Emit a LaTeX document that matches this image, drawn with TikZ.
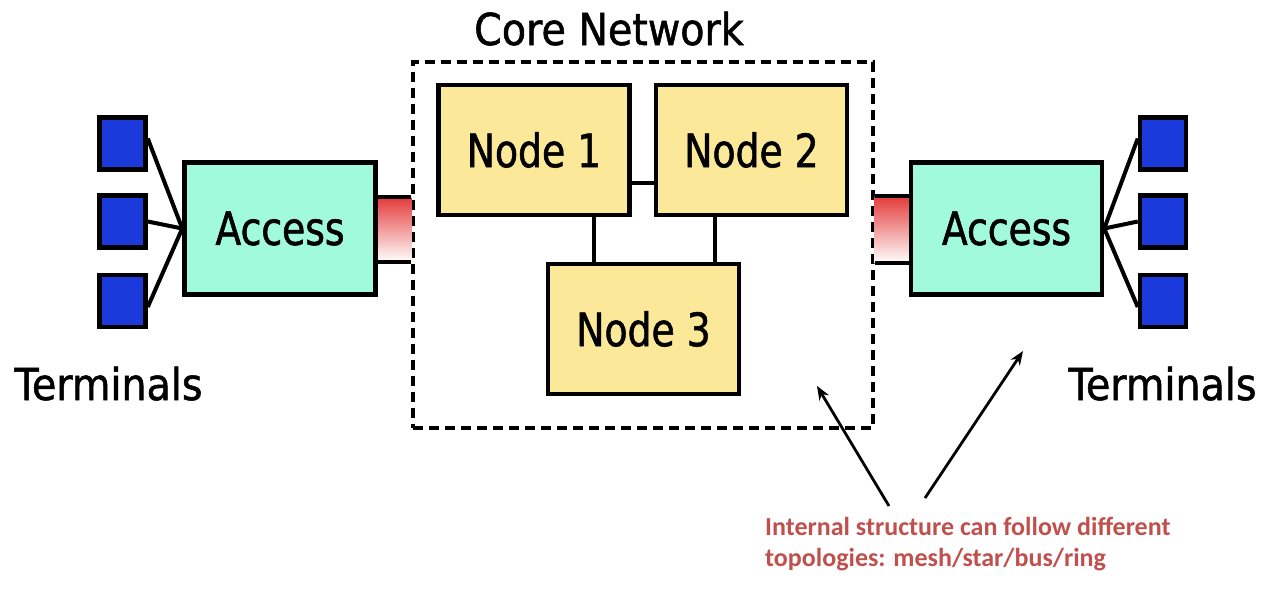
\documentclass[tikz,border=0pt]{standalone}
\usepackage{fontspec}
\setmainfont{DejaVu Sans}[FakeStretch=0.82,FakeBold=1.2]
\newfontfamily\widefont{DejaVu Sans}[FakeStretch=0.9,FakeBold=1.2]
\newfontfamily\notefont{Carlito}
\usetikzlibrary{arrows.meta}
\definecolor{accfill}{RGB}{162,250,220}
\definecolor{nodefill}{RGB}{251,232,153}
\definecolor{termblue}{RGB}{26,58,219}
\definecolor{notered}{RGB}{192,80,77}
\definecolor{linkred}{RGB}{228,58,58}
\tikzset{
  box/.style={draw=black, line width=4.5pt, inner sep=0pt, font=\fontsize{46}{50}\selectfont},
  accbox/.style={box, fill=accfill, minimum width=191pt, minimum height=132pt},
  corenode/.style={box, fill=nodefill, minimum width=191pt, minimum height=130pt},
  term/.style={draw=black, line width=4.5pt, fill=termblue, minimum width=46pt, minimum height=52pt, inner sep=0pt},
  wire/.style={line width=4pt},
  link/.style={line width=4pt},
  label/.style={font=\widefont\fontsize{44}{48}\selectfont, inner sep=0pt},
  pointer/.style={line width=2.8pt, -{Stealth[length=14pt,width=11pt]}}
}
\begin{document}
\begin{tikzpicture}[x=1pt,y=-1pt]
\useasboundingbox (0,0) rectangle (1272,590);
% terminals
\node[term] (tl1) at (122.5,143.5) {};
\node[term] (tl2) at (122.5,221.5) {};
\node[term] (tl3) at (122.5,301) {};
\node[term] (tr1) at (1163,143.5) {};
\node[term] (tr2) at (1163,221.5) {};
\node[term] (tr3) at (1163,301) {};
% access
\node[accbox] (accL) at (280,228.5) {Access};
\node[accbox] (accR) at (1006.5,228.5) {Access};
% core box
\node[draw=black, line width=3.2pt, dash pattern=on 10pt off 6pt, minimum width=460pt, minimum height=366pt, inner sep=0pt] (core) at (643,245) {};
\node[label, anchor=base] (coretitle) at (609,45) {Core Network};
% core nodes
\node[corenode] (n1) at (534,150) {Node 1};
\node[corenode] (n2) at (751.5,150) {Node 2};
\node[corenode] (n3) at (643.5,329) {Node 3};
% gradient links
\shade[top color=linkred, bottom color=white] (accL.east |- 0,197) rectangle (core.west |- 0,262);
\draw[wire] (accL.east |- 0,197) -- (core.west |- 0,197);
\draw[wire] (accL.east |- 0,262) -- (core.west |- 0,262);
\shade[top color=linkred, bottom color=white] (core.east |- 0,196) rectangle (accR.west |- 0,263);
\draw[wire] (core.east |- 0,196) -- (accR.west |- 0,196);
\draw[wire] (core.east |- 0,263) -- (accR.west |- 0,263);
% redraw access boxes above links
\node[accbox] at (accL) {Access};
\node[accbox] at (accR) {Access};
% terminal wires
\draw[wire] ([yshift=5pt]tl1.east) -- (accL.west);
\draw[wire] (tl2.east) -- (accL.west);
\draw[wire] ([yshift=-6pt]tl3.east) -- (accL.west);
\draw[wire] ([yshift=5pt]tr1.west) -- (accR.east);
\draw[wire] (tr2.west) -- (accR.east);
\draw[wire] ([yshift=-6pt]tr3.west) -- (accR.east);
% core links
\draw[link] (n1.east |- 0,183) -- (n2.west |- 0,183);
\draw[link] (n1.south -| 594,0) -- (n3.north -| 594,0);
\draw[link] (n2.south -| 715,0) -- (n3.north -| 715,0);
% terminals labels
\node[label, anchor=base] (termL) at (108.5,400) {Terminals};
\node[label, anchor=base] (termR) at (1162.5,400) {Terminals};
% note
\node[anchor=north west, align=left, inner sep=0pt, text=notered, font=\notefont\bfseries\fontsize{26}{31}\selectfont] (note) at (765,517) {Internal structure can follow different\\topologies: mesh/star/bus/ring};
\coordinate (p1s) at (889,506);
\coordinate (p1e) at (817,386);
\coordinate (p2s) at (925,498);
\coordinate (p2e) at (1023,351);
\draw[pointer] (p1s) -- (p1e);
\draw[pointer] (p2s) -- (p2e);
\end{tikzpicture}
\end{document}
